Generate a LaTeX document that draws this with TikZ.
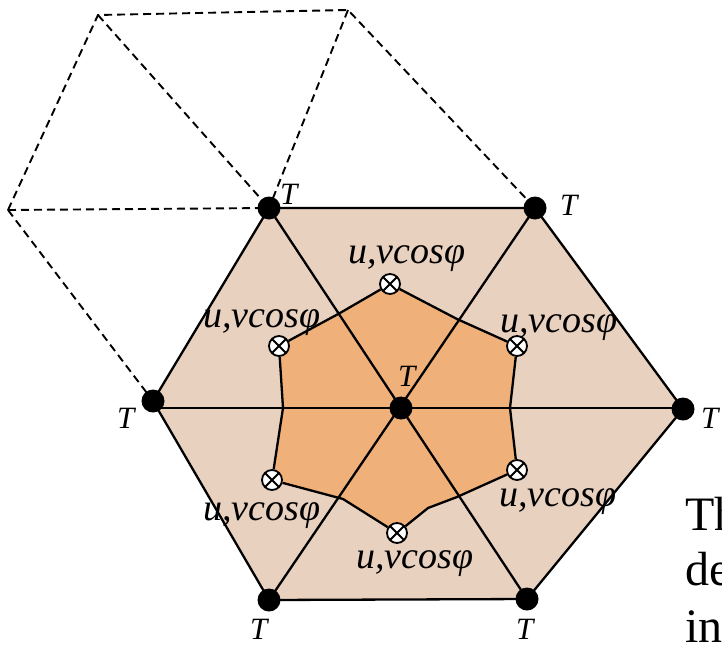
\documentclass[tikz,border=0pt]{standalone}
\usepackage{fontspec}
\setmainfont{Liberation Serif}
\usetikzlibrary{backgrounds}
\definecolor{outerfill}{RGB}{233,209,192}
\definecolor{innerfill}{RGB}{239,176,121}
\tikzset{
  tdot/.style={circle,fill=black,inner sep=0pt,minimum size=23pt},
  mk/.style={circle,draw=black,line width=1.8pt,fill=white,inner sep=0pt,minimum size=20pt,
    path picture={\draw[line width=1.8pt] (path picture bounding box.north east) -- (path picture bounding box.south west)
      (path picture bounding box.north west) -- (path picture bounding box.south east);}},
  lab/.style={inner sep=0pt,anchor=base west,font=\fontsize{38}{40}\selectfont\itshape},
  tlab/.style={inner sep=0pt,anchor=base west,font=\fontsize{31}{33}\selectfont\itshape},
  para/.style={inner sep=0pt,anchor=base west,font=\fontsize{48}{50}\selectfont},
  edgeln/.style={line width=2.3pt,line join=round},
  dashln/.style={line width=1.9pt,dash pattern=on 8pt off 5pt},
}
\begin{document}
\begin{tikzpicture}[x=1pt,y=-1pt]
\useasboundingbox (0,0) rectangle (722,648);
\clip (0,0) rectangle (722,648);
% vertices
\node[tdot] (tl) at (269,208) {};
\node[tdot] (tr) at (535,208) {};
\node[tdot] (r) at (683,409) {};
\node[tdot] (br) at (527,599) {};
\node[tdot] (bl) at (269,600) {};
\node[tdot] (l) at (153,401) {};
\node[tdot] (c) at (401,408) {};
% markers
\node[mk] (mT) at (390,284) {};
\node[mk] (mUR) at (517,346) {};
\node[mk] (mLR) at (517,470) {};
\node[mk] (mB) at (397,533) {};
\node[mk] (mLL) at (272,480) {};
\node[mk] (mUL) at (279,346) {};
% inner polygon kink points
\coordinate (x1) at (340,313);
\coordinate (x2) at (457,319);
\coordinate (x3) at (510,408);
\coordinate (x4) at (457,497);
\coordinate (x5) at (428,508);
\coordinate (x6) at (343,499);
\coordinate (x7) at (283,408);
% dashed lattice
\coordinate (d1) at (98,15);
\coordinate (d2) at (348,10);
\coordinate (d3) at (8,210);
\begin{scope}[on background layer]
\fill[outerfill] (tl.center) -- (tr.center) -- (r.center) -- (br.center) -- (bl.center) -- (l.center) -- cycle;
\fill[innerfill] (mUL.center) -- (x1) -- (mT.center) -- (x2) -- (mUR.center) -- (x3) -- (mLR.center) -- (x4) -- (x5) -- (mB.center) -- (x6) -- (mLL.center) -- (x7) -- cycle;
\draw[dashln] (d3) -- (d1) -- (d2) -- (tr.center);
\draw[dashln] (d1) -- (tl.center);
\draw[dashln] (d2) -- (tl.center);
\draw[dashln] (d3) -- (tl.center);
\draw[dashln] (d3) -- (l.center);
\draw[edgeln] (tl.center) -- (br.center);
\draw[edgeln] (tr.center) -- (bl.center);
\draw[edgeln] (l |- c) -- (r |- c);
\draw[edgeln] (mUL) -- (x1) -- (mT) -- (x2) -- (mUR) -- (x3) -- (mLR) -- (x4) -- (x5) -- (mB) -- (x6) -- (mLL) -- (x7) -- (mUL);
\draw[edgeln] (tl.center) -- (tr.center) -- (r.center) -- (br.center) -- (bl.center) -- (l.center) -- cycle;
\end{scope}
% labels
\node[lab] (lT) at (348,263) {u,vcosφ};
\node[lab] (lUL) at (203,327) {u,vcosφ};
\node[lab] (lUR) at (500,332) {u,vcosφ};
\node[lab] (lLR) at (499,506) {u,vcosφ};
\node[lab] (lB) at (356,568) {u,vcosφ};
\node[lab] (lLL) at (203,520) {u,vcosφ};
\node[tlab] (ttl) at (280,204) {T};
\node[tlab] (ttr) at (560,215) {T};
\node[tlab] (tc) at (398,386) {T};
\node[tlab] (tl2) at (117,428) {T};
\node[tlab] (tr2) at (701,428) {T};
\node[tlab] (tbl) at (250,639) {T};
\node[tlab] (tbr) at (516,639) {T};
\node[para] (p1) at (685,530) {Th};
\node[para] (p2) at (685,585) {de};
\node[para] (p3) at (685,642) {in};
\end{tikzpicture}
\end{document}
